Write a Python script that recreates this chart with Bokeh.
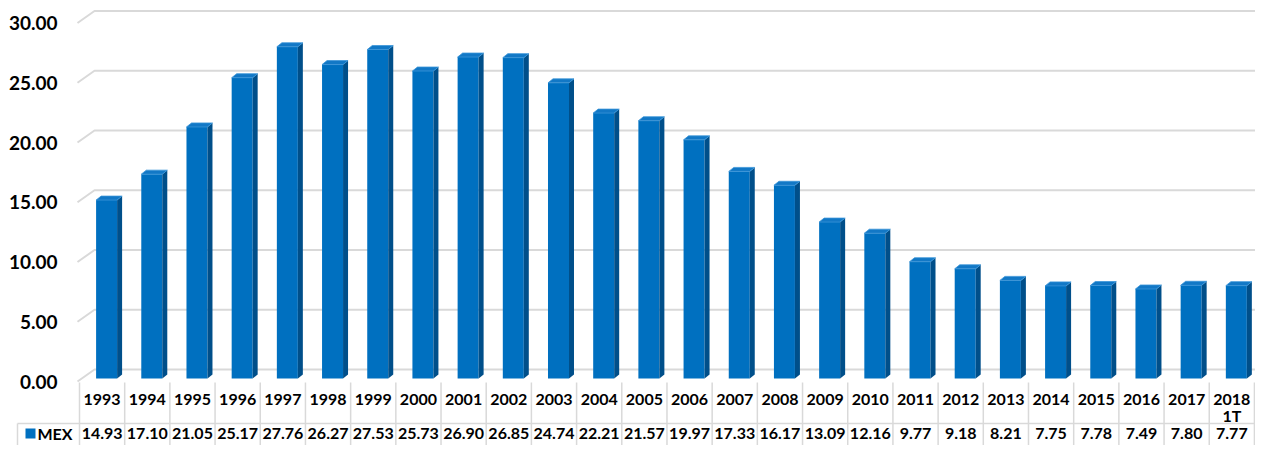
import numpy as np
from bokeh.plotting import figure
from bokeh.models import Range1d
from bokeh.core.properties import value
from bokeh.embed import file_html
from bokeh.resources import INLINE

# ---- data ----
categories = ["1993", "1994", "1995", "1996", "1997", "1998", "1999", "2000", "2001",
              "2002", "2003", "2004", "2005", "2006", "2007", "2008", "2009", "2010",
              "2011", "2012", "2013", "2014", "2015", "2016", "2017", "2018\n1T"]
mex = [14.93, 17.10, 21.05, 25.17, 27.76, 26.27, 27.53, 25.73, 26.90, 26.85, 24.74,
       22.21, 21.57, 19.97, 17.33, 16.17, 13.09, 12.16, 9.77, 9.18, 8.21, 7.75, 7.78,
       7.49, 7.80, 7.77]
y_ticks = [0, 5, 10, 15, 20, 25, 30]
series_name = "MEX"

# ---- geometry (pixels -> data) ----
W, H = 1255, 445
K = 11.95      # px per value unit
PX = 45.19     # px per category
Y0 = 381       # px of front-plane zero
XC0 = 79 + PX / 2  # px of first category centre


def xd(px):
    return (px - XC0) / PX


def yd(py):
    return (Y0 - py) / K


FONT = value("Lato")
GRID = "#d9d9d9"
FRONT = "#0070C0"
SIDE = "#004f8a"
TOP = "#1278c6"

p = figure(width=W, height=H, x_range=Range1d(xd(0), xd(W)),
           y_range=Range1d(yd(H), yd(0)), output_backend="svg",
           toolbar_location=None, x_axis_location=None, y_axis_location=None,
           min_border=0)
p.grid.visible = False
p.outline_line_color = None
p.background_fill_color = "white"

# gridlines with perspective wall
off = 12 / K
gx = [[xd(77), xd(94), xd(W)] for _ in y_ticks]
gy = [[t, t + off, t + off] for t in y_ticks]
p.multi_line(gx, gy, line_color=GRID, line_width=2)

# y tick labels
p.text(x=[xd(57)] * len(y_ticks), y=y_ticks, text=["%.2f" % t for t in y_ticks],
       text_font=FONT, text_font_style="bold", text_font_size="19px",
       text_align="right", text_baseline="middle", text_color="#000000")

# 3D bars
v = np.array(mex)
n = len(v)
idx = np.arange(n)
b = 3 / K
fl = idx - 6 / PX
fr = idx + 15 / PX
dx = 5 / PX
dy = 4 / K

p.quad(left=fl, right=fr, bottom=b, top=v + b, fill_color=FRONT, line_color=None)
side_xs = [[r, r + dx, r + dx, r] for r in fr]
side_ys = [[b, b + dy, h + b + dy, h + b] for h in v]
p.patches(side_xs, side_ys, fill_color=SIDE, line_color=None)
top_xs = [[l, r, r + dx, l + dx] for l, r in zip(fl, fr)]
top_ys = [[h + b, h + b, h + b + dy, h + b + dy] for h in v]
p.patches(top_xs, top_ys, fill_color=TOP, line_color="#3a94d8", line_width=0.8)

# data table
vx = [[i - 0.5, i - 0.5] for i in range(n + 1)]
vy = [[yd(Y0 + 1), yd(H)] for _ in range(n + 1)]
p.multi_line(vx, vy, line_color=GRID, line_width=1.5)
p.segment(x0=[xd(17)], y0=[yd(423)], x1=[n - 0.5], y1=[yd(423)], line_color=GRID, line_width=1.5)
p.segment(x0=[xd(17)], y0=[yd(423)], x1=[xd(17)], y1=[yd(H)], line_color=GRID, line_width=1.5)

line1 = [c.split("\n")[0] for c in categories]
line2 = [c.split("\n")[1] if "\n" in c else "" for c in categories]
p.text(x=idx, y=[yd(399)] * n, text=line1, text_font=FONT, text_font_style="bold",
       text_font_size="16px", text_align="center", text_baseline="middle", text_color="#000000")
p.text(x=idx, y=[yd(415)] * n, text=line2, text_font=FONT, text_font_style="bold",
       text_font_size="16px", text_align="center", text_baseline="middle", text_color="#000000")
p.text(x=idx, y=[yd(433)] * n, text=["%.2f" % x for x in mex], text_font=FONT,
       text_font_style="bold", text_font_size="16px", text_align="center",
       text_baseline="middle", text_color="#000000")

p.scatter(x=[xd(30)], y=[yd(433)], marker="square", size=10, fill_color=FRONT, line_color=None)
p.text(x=[xd(37)], y=[yd(433)], text=[series_name], text_font=FONT, text_font_style="bold",
       text_font_size="16px", text_align="left", text_baseline="middle", text_color="#000000")

open("out.html", "w").write(file_html(p, INLINE))
